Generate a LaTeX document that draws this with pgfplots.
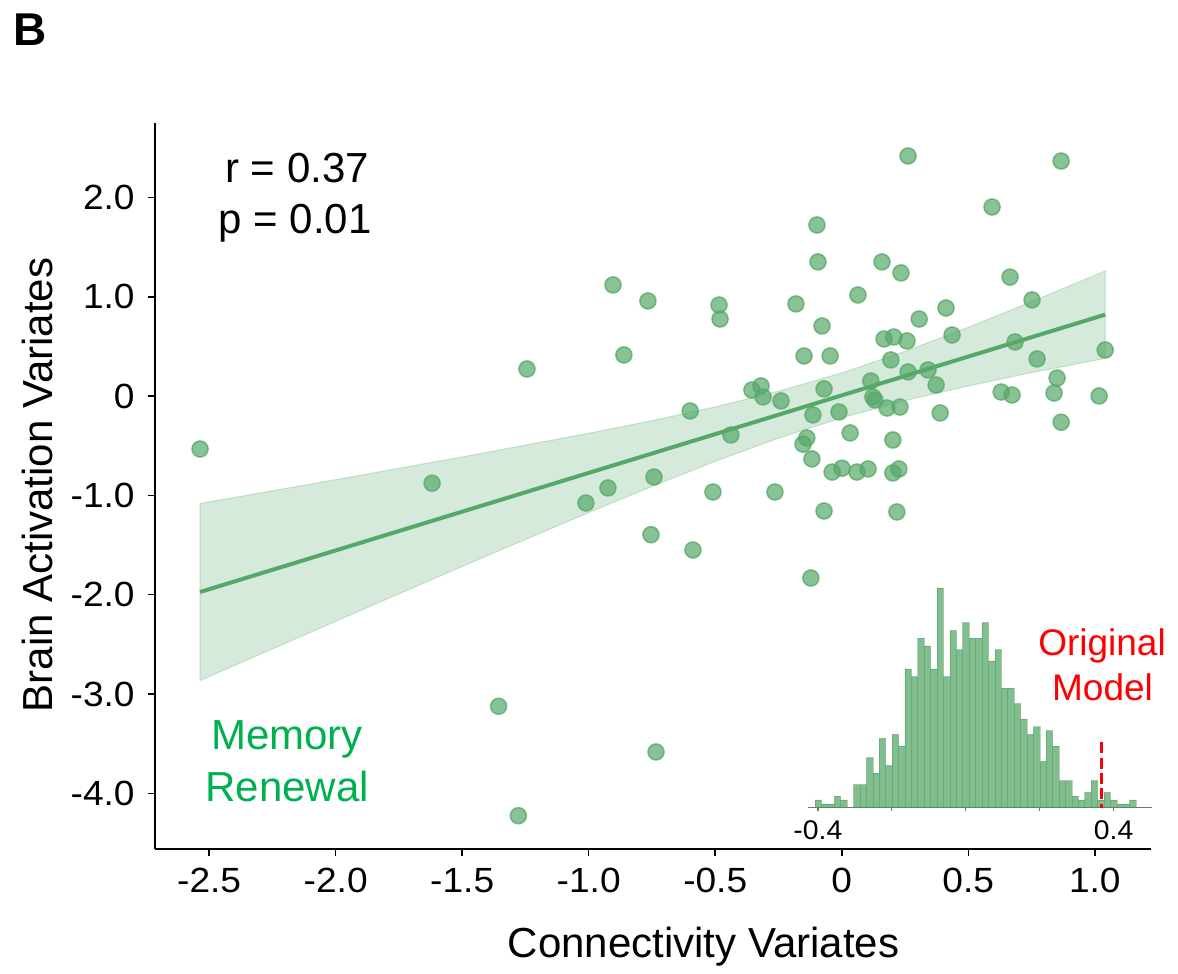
\documentclass[border=0pt]{standalone}
\usepackage{fontspec}
\setmainfont{Liberation Sans}
\usepackage{graphicx}
\usepackage{pgfplots}
\pgfplotsset{compat=1.18}
\definecolor{sgreen}{RGB}{85,168,104}
\definecolor{tgreen}{RGB}{0,176,80}
\newcommand{\tl}[1]{\scalebox{1.06}[1]{#1}}
\begin{document}
\begin{tikzpicture}
\path[use as bounding box] (0,0) rectangle (589pt,487pt);
\begin{axis}[
  at={(77.5pt,62.65pt)}, anchor=south west, scale only axis,
  width=497.85pt, height=362.7pt,
  xmin=-2.714, xmax=1.221, ymin=-4.558, ymax=2.747,
  axis x line*=bottom, axis y line*=left,
  axis line style={line width=0.85pt, black, -},
  tick align=outside, major tick length=3.5pt,
  tick style={line width=0.75pt, black},
  xtick={-2.5,-2,-1.5,-1,-0.5,0,0.5,1},
  xticklabels={\tl{-2.5},\tl{-2.0},\tl{-1.5},\tl{-1.0},\tl{-0.5},\tl{0},\tl{0.5},\tl{1.0}},
  ytick={-4,-3,-2,-1,0,1,2},
  yticklabels={\tl{-4.0},\tl{-3.0},\tl{-2.0},\tl{-1.0},\tl{0},\tl{1.0},\tl{2.0}},
  xticklabel style={font=\fontsize{17.5}{21}\selectfont, anchor=base, inner sep=0pt, yshift=-18.5pt},
  yticklabel style={font=\fontsize{17.5}{21}\selectfont, anchor=east, inner sep=0pt, xshift=-6.5pt},
  /pgf/number format/assume math mode=true,
]
% confidence band
\addplot[fill=sgreen, fill opacity=0.24, draw=sgreen, draw opacity=0.25, line width=0.6pt] coordinates {
(-2.536,-1.082) (-2.0,-0.842) (-1.5,-0.613) (-1.0,-0.375) (-0.75,-0.248) (-0.5,-0.109)
(-0.25,0.048) (0,0.233) (0.25,0.450) (0.5,0.692) (0.75,0.950) (1.041,1.260)
(1.041,0.380) (0.75,0.236) (0.5,0.102) (0.25,-0.046) (0,-0.219) (-0.25,-0.424)
(-0.5,-0.657) (-0.75,-0.910) (-1.0,-1.173) (-1.5,-1.715) (-2.0,-2.268) (-2.536,-2.864)
} -- cycle;
% scatter
\addplot[only marks, mark=*, mark size=4pt,
  mark options={fill=sgreen, fill opacity=0.7, draw=sgreen, draw opacity=0.75, line width=0.8pt}]
coordinates {
(-2.536,-0.533) (-1.619,-0.877) (-1.244,0.273) (-1.356,-3.124) (-1.278,-4.226)
(-1.011,-1.077) (-0.904,1.119) (-0.924,-0.925) (-0.861,0.414) (-0.766,0.958)
(-0.754,-1.396) (-0.742,-0.815) (-0.734,-3.584) (-0.599,-0.150) (-0.588,-1.550)
(-0.509,-0.966) (-0.485,0.917) (-0.481,0.776) (-0.438,-0.392) (-0.355,0.061)
(-0.319,0.102) (-0.311,-0.009) (-0.264,-0.966) (-0.240,-0.049) (-0.181,0.928)
(-0.149,0.404) (-0.153,-0.484) (-0.138,-0.422) (-0.118,-0.633) (-0.122,-1.832)
(-0.114,-0.190) (-0.098,1.723) (-0.094,1.351) (-0.078,0.706) (-0.070,0.072)
(-0.070,-1.157) (-0.046,0.404) (-0.038,-0.765) (-0.011,-0.160) (0.001,-0.726)
(0.033,-0.371) (0.064,1.018) (0.060,-0.765) (0.104,-0.734) (0.115,0.152)
(0.123,-0.009) (0.131,-0.039) (0.159,1.351) (0.167,0.575) (0.179,-0.120)
(0.194,0.364) (0.202,-0.442) (0.202,-0.774) (0.206,0.595) (0.218,-1.167)
(0.226,-0.734) (0.230,-0.110) (0.234,1.240) (0.258,0.555) (0.262,2.418)
(0.262,0.243) (0.306,0.776) (0.341,0.263) (0.373,0.112) (0.389,-0.170)
(0.412,0.887) (0.436,0.615) (0.594,1.904) (0.630,0.041) (0.665,1.198)
(0.673,0.011) (0.685,0.545) (0.752,0.968) (0.772,0.374) (0.839,0.031)
(0.851,0.182) (0.867,2.367) (0.867,-0.263) (1.017,0.001) (1.041,0.464)
};
% regression line
\addplot[sgreen, line width=2pt] coordinates {(-2.536,-1.973) (1.041,0.820)};
\end{axis}
% inset histogram
\begin{axis}[
  at={(404.15pt,83.15pt)}, anchor=south west, scale only axis,
  width=171.7pt, height=109.85pt,
  xmin=-0.426, xmax=0.503, ymin=0, ymax=57,
  axis x line*=bottom, axis y line=none,
  axis line style={black!55, line width=0.8pt, -},
  tick align=outside, major tick length=1.6pt,
  tick style={black!55, line width=0.6pt},
  xtick={-0.4,-0.2,0,0.2,0.4},
  xticklabels={\scalebox{1.05}[1]{-0.4},,,,\scalebox{1.05}[1]{0.4}},
  ytick=\empty,
  xticklabel style={font=\fontsize{13.5}{16}\selectfont, anchor=base, inner sep=0pt, yshift=-14.5pt},
  clip=false,
]
\addplot[ybar interval, fill=sgreen, fill opacity=0.75, draw=sgreen!80!black, draw opacity=0.35, line width=0.3pt] coordinates {
(-0.4078,2) (-0.3904,1) (-0.3731,1) (-0.3557,3) (-0.3383,2) (-0.3209,0)
(-0.3036,6) (-0.2862,6) (-0.2688,13) (-0.2514,9) (-0.2341,18) (-0.2167,11)
(-0.1993,19) (-0.1819,16) (-0.1646,36) (-0.1472,34) (-0.1298,44) (-0.1124,42)
(-0.0951,36) (-0.0777,57) (-0.0603,34) (-0.0429,46) (-0.0256,41) (-0.0082,48)
(0.0092,44) (0.0266,44) (0.0439,48) (0.0613,38) (0.0787,41) (0.0961,31)
(0.1134,31) (0.1308,27) (0.1482,23) (0.1656,19) (0.1829,21) (0.2003,12)
(0.2177,20) (0.2351,16) (0.2524,7) (0.2698,7) (0.2872,3) (0.3046,2)
(0.3219,4) (0.3393,7) (0.3567,2) (0.3741,4) (0.3914,2) (0.4088,1)
(0.4262,1) (0.4436,2) (0.4609,0)
};
\addplot[red, line width=1.6pt, dash pattern=on 5.5pt off 2.2pt] coordinates {(0.368,17) (0.368,0)};
\end{axis}
% texts
\node[anchor=base west, inner sep=0pt, font=\fontsize{23}{27}\selectfont\bfseries] at (6.7pt,464pt) {B};
\node[anchor=base, inner sep=0pt, font=\fontsize{21}{25}\selectfont] at (148.5pt,395.85pt) {r = 0.37};
\node[anchor=base, inner sep=0pt, font=\fontsize{21}{25}\selectfont] at (147.5pt,370.35pt) {p = 0.01};
\node[anchor=base, inner sep=0pt, text=tgreen, font=\fontsize{21}{25}\selectfont] at (143.5pt,112pt) {Memory};
\node[anchor=base, inner sep=0pt, text=tgreen, font=\fontsize{21}{25}\selectfont] at (143.6pt,86.15pt) {Renewal};
\node[anchor=base, inner sep=0pt, text=red, font=\fontsize{18.5}{22}\selectfont] at (551pt,159pt) {Original};
\node[anchor=base, inner sep=0pt, text=red, font=\fontsize{18.5}{22}\selectfont] at (551.25pt,136.65pt) {Model};
\node[anchor=base, inner sep=0pt, font=\fontsize{21}{25}\selectfont] at (351.75pt,8.35pt) {Connectivity Variates};
\node[anchor=base, inner sep=0pt, rotate=90, font=\fontsize{21}{25}\selectfont] at (26pt,244.5pt) {Brain Activation Variates};
\end{tikzpicture}
\end{document}
